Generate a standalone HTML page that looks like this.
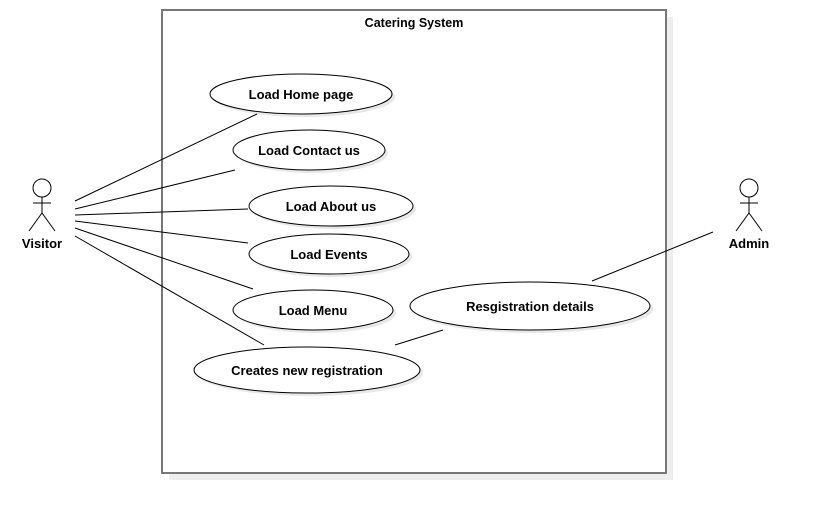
<!DOCTYPE html>
<html><head><style>body{margin:0;background:#fff}</style></head><body>
<svg width="826" height="514" xmlns="http://www.w3.org/2000/svg" font-family="Liberation Sans, sans-serif" font-size="13" font-weight="bold" text-anchor="middle">
<rect x="169" y="17" width="504" height="463" fill="#eee"/>
<rect x="162" y="10" width="504" height="463" fill="#fff" stroke="#777" stroke-width="2"/>
<text x="414" y="27" font-size="12.5">Catering System</text>
<g fill="#e8e8e8">
<ellipse cx="304" cy="97" rx="91" ry="20"/><ellipse cx="312" cy="153" rx="76" ry="20"/>
<ellipse cx="334" cy="209" rx="82" ry="20"/><ellipse cx="332" cy="257" rx="80" ry="20"/>
<ellipse cx="316" cy="313" rx="80" ry="20"/><ellipse cx="310" cy="373" rx="113" ry="23"/>
<ellipse cx="533" cy="309" rx="120" ry="24"/></g>
<g fill="#fff" stroke="#000">
<ellipse cx="301" cy="94" rx="91" ry="20"/><ellipse cx="309" cy="150" rx="76" ry="20"/>
<ellipse cx="331" cy="206" rx="82" ry="20"/><ellipse cx="329" cy="254" rx="80" ry="20"/>
<ellipse cx="313" cy="310" rx="80" ry="20"/><ellipse cx="307" cy="370" rx="113" ry="23"/>
<ellipse cx="530" cy="306" rx="120" ry="24"/></g>
<g>
<text x="301" y="99">Load Home page</text><text x="309" y="155">Load Contact us</text>
<text x="331" y="211">Load About us</text><text x="329" y="259">Load Events</text>
<text x="313" y="315">Load Menu</text><text x="307" y="375">Creates new registration</text>
<text x="530" y="311">Resgistration details</text></g>
<g stroke="#000" fill="none">
<line x1="75" y1="201" x2="257" y2="114"/><line x1="75" y1="209" x2="235" y2="170"/>
<line x1="75" y1="215" x2="248" y2="209"/><line x1="75" y1="221" x2="248" y2="243"/>
<line x1="75" y1="228" x2="253" y2="289"/><line x1="75" y1="236" x2="264" y2="345"/>
<line x1="592" y1="281" x2="713" y2="232"/><line x1="395" y1="345" x2="443" y2="330"/>
<circle cx="42" cy="188" r="9" fill="#fff"/><line x1="42" y1="197" x2="42" y2="213"/>
<line x1="33" y1="203" x2="51" y2="203"/><path d="M29 231 L42 213 L55 231"/>
<circle cx="749" cy="188" r="9" fill="#fff"/><line x1="749" y1="197" x2="749" y2="213"/>
<line x1="740" y1="203" x2="758" y2="203"/><path d="M736 231 L749 213 L762 231"/>
</g>
<text x="42" y="248">Visitor</text><text x="749" y="248">Admin</text>
</svg>
</body></html>
